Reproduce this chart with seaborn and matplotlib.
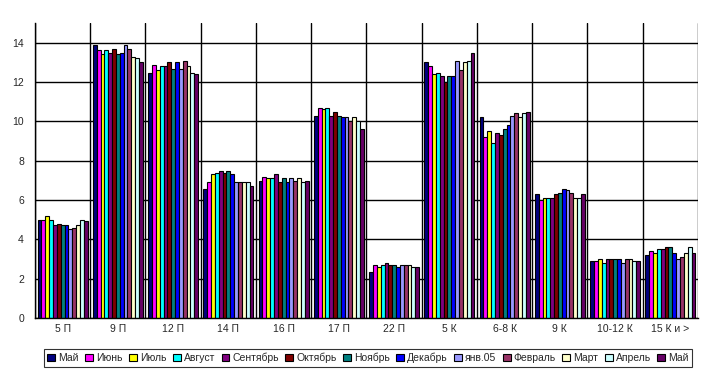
import matplotlib
matplotlib.use("Agg")
import matplotlib.pyplot as plt
import seaborn as sns
import pandas as pd
import numpy as np

categories = ["5 П", "9 П", "12 П", "14 П", "16 П", "17 П", "22 П",
              "5 К", "6-8 К", "9 К", "10-12 К", "15 К и >"]
series_names = ["Май", "Июнь", "Июль", "Август", "Сентябрь", "Октябрь", "Ноябрь",
                "Декабрь", "янв.05", "Февраль", "Март", "Апрель", "Май"]
colors = ["#000080", "#FF00FF", "#FFFF00", "#00FFFF", "#800080", "#800000", "#008080",
          "#0000FF", "#9999FF", "#993366", "#FFFFCC", "#CCFFFF", "#660066"]

may04 = [4.98, 13.9, 12.47, 6.56, 6.97, 10.28, 2.33, 13.03, 10.23, 6.3, 2.9, 3.19]
jun = [4.98, 13.64, 12.88, 6.92, 7.17, 10.69, 2.69, 12.83, 9.21, 6.0, 2.9, 3.4]
jul = [5.18, 13.44, 12.62, 7.32, 7.12, 10.64, 2.58, 12.42, 9.52, 6.1, 2.99, 3.3]
aug = [4.98, 13.64, 12.83, 7.37, 7.12, 10.69, 2.69, 12.47, 8.9, 6.1, 2.79, 3.5]
sep = [4.72, 13.49, 12.83, 7.48, 7.32, 10.28, 2.79, 12.32, 9.41, 6.1, 2.99, 3.5]
oct_ = [4.77, 13.69, 13.03, 7.37, 6.92, 10.48, 2.69, 12.01, 9.31, 6.3, 2.99, 3.6]
nov = [4.72, 13.44, 12.68, 7.48, 7.12, 10.28, 2.69, 12.32, 9.62, 6.35, 2.99, 3.6]
dec = [4.72, 13.49, 13.03, 7.32, 6.92, 10.23, 2.58, 12.32, 9.82, 6.56, 2.99, 3.3]
jan05 = [4.52, 13.9, 12.68, 6.92, 7.12, 10.23, 2.69, 13.08, 10.28, 6.51, 2.79, 2.99]
feb = [4.57, 13.69, 13.08, 6.92, 6.97, 10.03, 2.69, 12.62, 10.43, 6.35, 2.99, 3.09]
mar = [4.72, 13.29, 12.83, 6.92, 7.12, 10.23, 2.69, 13.03, 10.23, 6.1, 2.99, 3.3]
apr = [4.98, 13.24, 12.47, 6.92, 6.92, 10.03, 2.58, 13.08, 10.43, 6.1, 2.9, 3.6]
may05 = [4.93, 13.03, 12.42, 6.71, 6.97, 9.62, 2.58, 13.49, 10.48, 6.3, 2.9, 3.3]

all_series = [may04, jun, jul, aug, sep, oct_, nov, dec, jan05, feb, mar, apr, may05]
y_ticks = [0, 2, 4, 6, 8, 10, 12, 14]

rows = []
for i, vals in enumerate(all_series):
    key = f"s{i}"
    for c, v in zip(categories, vals):
        rows.append({"cat": c, "series": key, "value": v})
df = pd.DataFrame(rows)
keys = [f"s{i}" for i in range(len(all_series))]
palette = dict(zip(keys, colors))

sns.set_style("white")
plt.rcParams["font.family"] = ["Liberation Sans", "DejaVu Sans"]

fig = plt.figure(figsize=(7.13, 3.81), dpi=100)
ax = fig.add_axes([35/713, 1-318/381, (698-35)/713, (318-23)/381])

sns.barplot(data=df, x="cat", y="value", hue="series", hue_order=keys,
            order=categories, palette=palette, width=0.905, saturation=1,
            edgecolor="black", linewidth=0.8, ax=ax, legend=False, errorbar=None)

ax.set_ylim(0, 15)
ax.set_xlim(-0.5, len(categories) - 0.5)
ax.set_yticks(y_ticks)
ax.set_yticklabels([str(t) for t in y_ticks], fontsize=7.5)
ax.set_xticks(np.arange(len(categories) + 1) - 0.5)
ax.set_xticklabels([])
ax.set_xticks(np.arange(len(categories)), minor=True)
ax.set_xticklabels(categories, minor=True, fontsize=7.5)
ax.tick_params(axis="x", which="major", length=4, width=1, color="black", direction="out")
ax.tick_params(axis="x", which="minor", length=0, pad=4)
ax.tick_params(axis="y", length=4, width=1, color="black", direction="out", pad=4)
ax.grid(True, axis="both", which="major", color="black", linewidth=1)
ax.set_axisbelow(True)
ax.set_xlabel("")
ax.set_ylabel("")
for s in ["top", "right"]:
    ax.spines[s].set_visible(False)
for s in ["left", "bottom"]:
    ax.spines[s].set_color("black")
    ax.spines[s].set_linewidth(1)

from matplotlib.patches import Patch
handles = [Patch(facecolor=c, edgecolor="black", linewidth=0.8) for c in colors]
leg = fig.legend(handles, series_names, loc="center", bbox_to_anchor=(368/713, 1-358/381),
                 ncol=len(series_names), fontsize=7.5, frameon=True, fancybox=False,
                 handlelength=0.75, handleheight=0.75, handletextpad=0.3,
                 columnspacing=0.62, borderpad=0.35, borderaxespad=0)
leg.get_frame().set_edgecolor("black")
leg.get_frame().set_linewidth(0.8)

fig.savefig("out.png", dpi=100)
